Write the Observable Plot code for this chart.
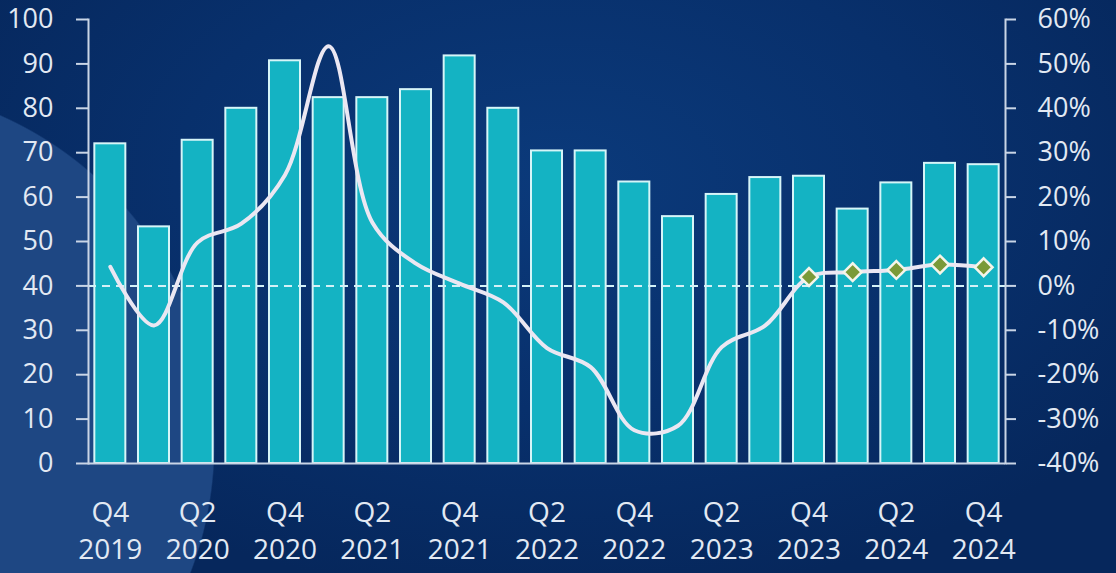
<!DOCTYPE html>
<html>
<head>
<meta charset="utf-8">
<script src="https://cdn.jsdelivr.net/npm/d3@7"></script>
<script src="https://cdn.jsdelivr.net/npm/@observablehq/plot@0.6"></script>
<style>
  html, body { margin: 0; padding: 0; }
  body {
    width: 1116px; height: 573px; overflow: hidden;
    background:
      radial-gradient(circle 360px at -145px 444px, #1e4783 99.6%, rgba(0,0,0,0) 100%),
      radial-gradient(ellipse 700px 420px at 560px 180px, #0b3a7b 0%, #08306c 55%, #06275c 100%);
  }
  #chart svg { display: block; }
</style>
</head>
<body>
<div id="chart"></div>
<script>
const quarters = ["Q4 2019","Q1 2020","Q2 2020","Q3 2020","Q4 2020","Q1 2021","Q2 2021","Q3 2021","Q4 2021","Q1 2022","Q2 2022","Q3 2022","Q4 2022","Q1 2023","Q2 2023","Q3 2023","Q4 2023","Q1 2024","Q2 2024","Q3 2024","Q4 2024"];
const barValues = [72, 53.3, 72.8, 80, 90.7, 82.4, 82.4, 84.2, 91.8, 80, 70.4, 70.4, 63.4, 55.6, 60.6, 64.4, 64.7, 57.3, 63.2, 67.6, 67.3];
const growthPct = [4.3, -8.9, 9.8, 14, 25, 54, 14.3, 5, 0.5, -3.7, -14, -18.3, -32.5, -31.5, -13.8, -8.9, 2, 3.1, 3.6, 4.8, 4.2];
const markerQuarters = ["Q4 2023","Q1 2024","Q2 2024","Q3 2024","Q4 2024"];
const leftTicks = [0,10,20,30,40,50,60,70,80,90,100];
const rightTicksPct = [-40,-30,-20,-10,0,10,20,30,40,50,60];
const xTickQuarters = quarters.filter((q, i) => i % 2 === 0);

// right axis maps -40%..60% onto the left 0..100 range
const pctOffset = 40;

const bars = quarters.map((q, i) => ({q, v: barValues[i]}));
const growth = quarters.map((q, i) => ({q, p: growthPct[i]}));
const markers = growth.filter(d => markerQuarters.includes(d.q));

const textColor = "#e2e9f3";
const axisColor = "#c9d5e6";

const chart = Plot.plot({
  width: 1116,
  height: 573,
  marginLeft: 88,
  marginRight: 111,
  marginTop: 19,
  marginBottom: 110,
  style: {background: "transparent", fontFamily: "'Open Sans', Lato, sans-serif", fontSize: "27px", color: textColor},
  x: {domain: quarters, paddingInner: 0.29, paddingOuter: 0.145, round: false, label: null},
  y: {domain: [0, 100], label: null},
  marks: [
    Plot.barY(bars, {x: "q", y: "v", fill: "#14b3c3", stroke: "#d6f5f8", strokeWidth: 2}),
    Plot.ruleY([pctOffset], {stroke: "#d3f1f7", strokeWidth: 2, strokeDasharray: "8,6"}),
    Plot.ruleY([0], {stroke: axisColor, strokeWidth: 2}),
    Plot.frame({anchor: "left", stroke: axisColor, strokeWidth: 2}),
    Plot.frame({anchor: "right", stroke: axisColor, strokeWidth: 2}),
    Plot.line(growth, {x: "q", y: d => d.p + pctOffset, curve: "catmull-rom", stroke: "#ebe7f2", strokeWidth: 4}),
    Plot.dot(markers, {x: "q", y: d => d.p + pctOffset, symbol: "diamond2", r: 8, fill: "#7a9a38", stroke: "#f5f5ea", strokeWidth: 2.5}),
    Plot.axisY({anchor: "left", label: null, ticks: leftTicks, tickSize: 12, tickPadding: 23, stroke: axisColor, strokeWidth: 2, fill: textColor, fontSize: 27}),
    Plot.axisY({anchor: "right", label: null, ticks: rightTicksPct.map(p => p + pctOffset), tickFormat: d => `${d - pctOffset}%`, tickSize: 10, tickPadding: 22, stroke: axisColor, strokeWidth: 2, fill: textColor, fontSize: 27}),
    Plot.axisX({label: null, ticks: xTickQuarters, tickFormat: d => d.replace(" ", "\n"), tickSize: 0, tickPadding: 32, lineHeight: 1.33, fill: textColor, fontSize: 28})
  ]
});
document.getElementById("chart").appendChild(chart);
</script>
</body>
</html>
